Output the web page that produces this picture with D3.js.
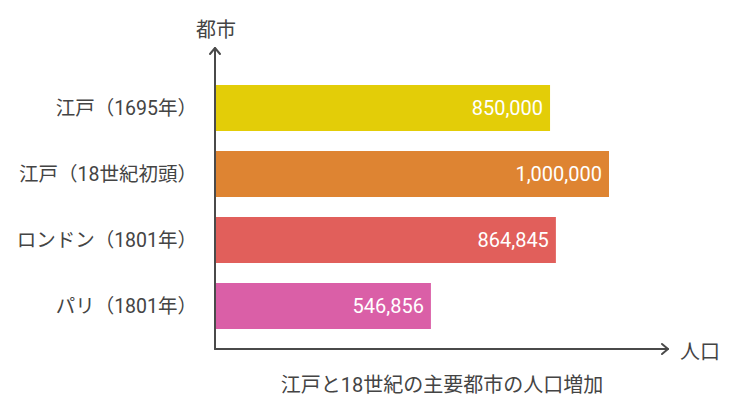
<!DOCTYPE html>
<html><head><meta charset="utf-8">
<script src="https://cdn.jsdelivr.net/npm/d3@7"></script>
<style>body{margin:0;background:#fff}svg{display:block}text{font-family:Roboto,"Noto Sans CJK JP",sans-serif}</style>
</head><body>
<script>
const categories = ["江戸（1695年）", "江戸（18世紀初頭）", "ロンドン（1801年）", "パリ（1801年）"];
const populations = [850000, 1000000, 864845, 546856];
const colors = ["#E3CD08", "#DE8432", "#E15F5B", "#DA5FA7"];
const yAxisTitle = "都市";
const xAxisTitle = "人口";
const chartTitle = "江戸と18世紀の主要都市の人口増加";

const W = 738, H = 408;
const x0 = 215, yBottom = 349;
const FS = 20;
const svg = d3.select("body").append("svg").attr("width", W).attr("height", H);

const x = d3.scaleLinear().domain([0, 1000000]).range([x0 + 1, 609]);
const y = d3.scaleBand().domain(categories).range([75, 339]).paddingInner(20/66).paddingOuter(10/66);

const fmt = d3.format(",");
const axisColor = "#4a4a4a";
const textColor = "#444";

svg.selectAll("rect.bar").data(categories).join("rect")
  .attr("class", "bar")
  .attr("x", x(0))
  .attr("y", d => y(d))
  .attr("height", y.bandwidth())
  .attr("width", (d, i) => x(populations[i]) - x(0))
  .attr("fill", (d, i) => colors[i]);

svg.selectAll("text.val").data(categories).join("text")
  .attr("class", "val")
  .attr("x", (d, i) => x(populations[i]) - 7)
  .attr("y", d => y(d) + y.bandwidth() / 2)
  .attr("dy", "0.35em")
  .attr("text-anchor", "end")
  .attr("fill", "#fff")
  .attr("font-size", FS)
  .text((d, i) => fmt(populations[i]));

svg.selectAll("text.cat").data(categories).join("text")
  .attr("class", "cat")
  .attr("x", 197)
  .attr("y", d => y(d) + y.bandwidth() / 2)
  .attr("dy", "0.35em")
  .attr("text-anchor", "end")
  .attr("fill", textColor)
  .attr("font-size", 19.5)
  .text(d => d);

// axes
const g = svg.append("g").attr("stroke", axisColor).attr("stroke-width", 2).attr("fill", "none").attr("stroke-linecap", "round").attr("stroke-linejoin", "round");
g.append("path").attr("d", `M${x0},${yBottom} L${x0},48`);
g.append("path").attr("d", `M${x0-5},${54} L${x0},48 L${x0+5},${54}`);
g.append("path").attr("d", `M${x0},${yBottom} L668,${yBottom}`);
g.append("path").attr("d", `M${662},${yBottom-5} L668,${yBottom} L${662},${yBottom+5}`);

svg.append("text").attr("x", x0 + 1).attr("y", 30).attr("dy", "0.35em").attr("text-anchor", "middle")
  .attr("fill", textColor).attr("font-size", FS).text(yAxisTitle);
svg.append("text").attr("x", 680).attr("y", 352).attr("dy", "0.35em").attr("text-anchor", "start")
  .attr("fill", textColor).attr("font-size", FS).text(xAxisTitle);
svg.append("text").attr("x", 442).attr("y", 385).attr("dy", "0.35em").attr("text-anchor", "middle")
  .attr("fill", textColor).attr("font-size", FS).text(chartTitle);
</script>
</body></html>
